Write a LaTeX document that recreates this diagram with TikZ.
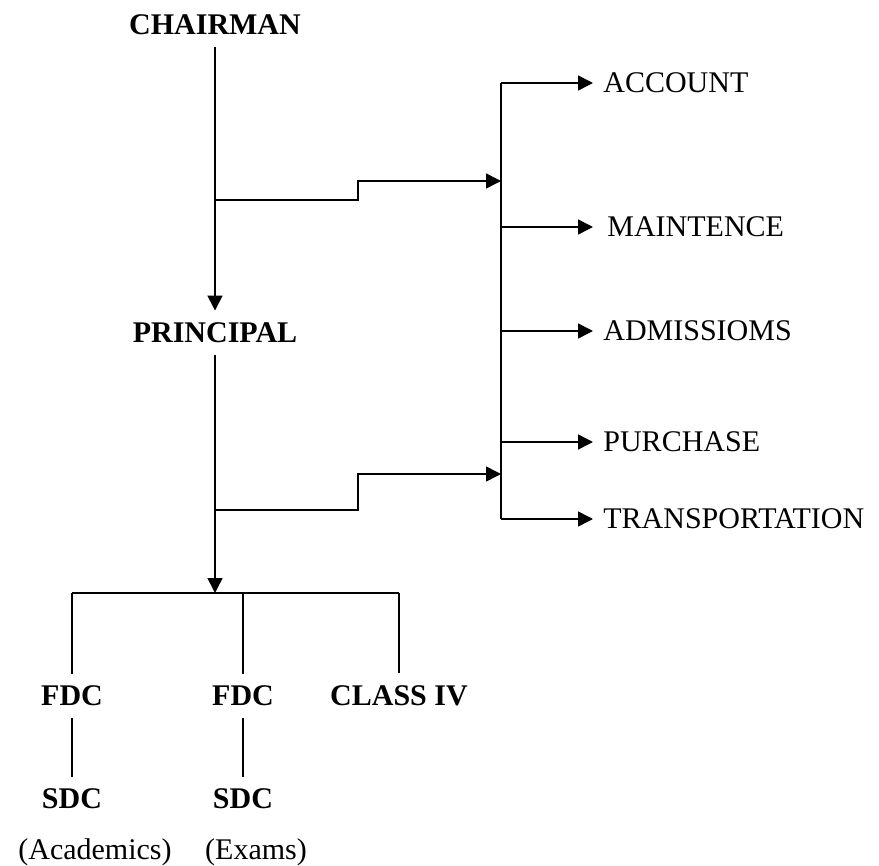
\documentclass[tikz,border=0pt]{standalone}
\usepackage{fontspec}
\setmainfont{Liberation Serif}
\usepackage{tikz}
\usetikzlibrary{arrows.meta, positioning, calc}
\tikzset{
    head/.style={font=\fontsize{15}{18}\selectfont\bfseries, inner sep=6pt},
    dept/.style={font=\fontsize{15}{18}\selectfont, anchor=west, inner sep=5pt},
    note/.style={font=\fontsize{15}{18}\selectfont, inner sep=2pt},
    arr/.style={-{Triangle[length=7.5pt,width=7.5pt]}, line width=0.8pt},
    link/.style={line width=0.8pt}
}

\begin{document}
\begin{tikzpicture}[x=0.5pt, y=-0.5pt]
    \useasboundingbox (0,0) rectangle (879,866);

    % main chain
    \node[head] (chair) at (215,25) {CHAIRMAN};
    \node[head] (princ) at (215,333) {PRINCIPAL};
    \draw[arr] (chair.south) -- (princ.north);

    % departments
    \coordinate (bus) at (501,83);
    \node[dept] (acc)   at (593,83)  {ACCOUNT};
    \node[dept] (maint) at (597,227) {MAINTENCE};
    \node[dept] (adm)   at (593,331) {ADMISSIOMS};
    \node[dept] (pur)   at (593,442) {PURCHASE};
    \node[dept] (trans) at (593,519) {TRANSPORTATION};
    \draw[link] (bus) -- (bus |- trans.west);
    \foreach \d in {acc, adm, pur, trans}
        \draw[arr] (\d.west -| bus) -- (\d.west);
    \draw[arr] (maint.west -| bus) -- ([xshift=-2pt]maint.west);

    % links into the bus
    \coordinate (b1) at (215,200);
    \coordinate (s1) at (358,181);
    \coordinate (in1) at (501,181);
    \coordinate (b2) at (215,510);
    \coordinate (s2) at (358,474);
    \coordinate (in2) at (501,474);
    \draw[arr] (b1) -| (s1) -- (in1);
    \draw[arr] (b2) -| (s2) -- (in2);

    % staff
    \coordinate (bar) at (215,593);
    \draw[arr] (princ.south) -- (bar);
    \node[head] (fdcA) at (72,696) {FDC};
    \node[head] (fdcB) at (243,696) {FDC};
    \node[head] (cls)  at (399,696) {CLASS IV};
    \node[head] (sdcA) at (72,799) {SDC};
    \node[head] (sdcB) at (243,799) {SDC};
    \draw[link] (bar -| fdcA.north) -- (bar -| cls.north);
    \foreach \s in {fdcA, fdcB, cls}
        \draw[link] (bar -| \s.north) -- (\s.north);
    \draw[link] (fdcA) -- (sdcA);
    \draw[link] (fdcB) -- (sdcB);

    \node[note] (acad) at (95,852) {(Academics)};
    \node[note] (exam) at (256,852) {(Exams)};
\end{tikzpicture}
\end{document}
